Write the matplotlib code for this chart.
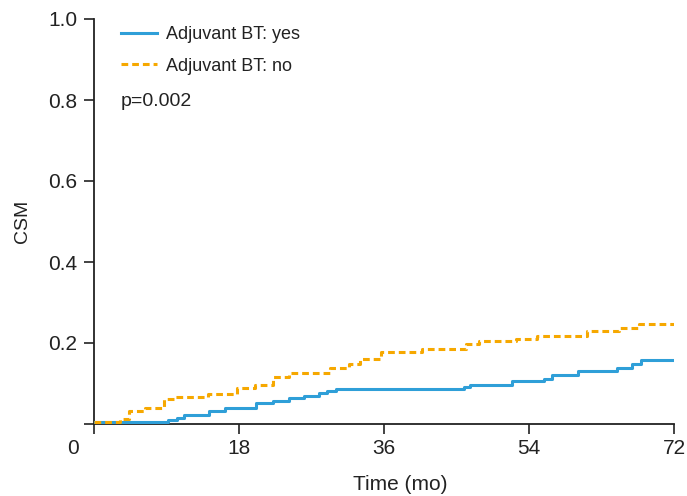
import matplotlib
matplotlib.use('Agg')
import matplotlib.pyplot as plt

# cumulative CSM steps
yes_t = [0, 9.2, 10.3, 11.2, 14.3, 16.3, 20.1, 22.2, 24.2, 26.1, 27.9, 28.9, 30.0,
         45.9, 46.7, 51.9, 55.9, 56.9, 60.1, 64.9, 66.8, 67.9, 72]
yes_csm = [0.005, 0.010, 0.016, 0.022, 0.031, 0.039, 0.051, 0.058, 0.064, 0.070, 0.076,
           0.081, 0.086, 0.091, 0.097, 0.105, 0.112, 0.120, 0.130, 0.139, 0.149, 0.159, 0.159]

no_t = [0, 3.2, 4.3, 6.3, 8.7, 10.1, 14.2, 17.7, 20.0, 22.2, 24.2, 29.3, 31.6, 33.0,
        35.6, 40.7, 46.2, 47.8, 52.4, 55.0, 61.2, 65.2, 67.7, 72]
no_csm = [0.005, 0.012, 0.033, 0.040, 0.061, 0.067, 0.073, 0.088, 0.096, 0.115, 0.126,
          0.138, 0.149, 0.160, 0.177, 0.186, 0.198, 0.204, 0.209, 0.217, 0.229, 0.237,
          0.246, 0.246]

xticks = [0, 18, 36, 54, 72]
yticks = [0, 0.2, 0.4, 0.6, 0.8, 1.0]
ytick_labels = ['', '0.2', '0.4', '0.6', '0.8', '1.0']

BLUE = '#2f9fd8'
ORANGE = '#f6a800'
INK = '#222222'

plt.rcParams['font.family'] = ['Liberation Sans', 'DejaVu Sans']

fig = plt.figure(figsize=(6.87, 4.96), dpi=100)
ax = fig.add_axes([94/687, 1-424/496, 580/687, 405/496])

ax.step(yes_t, yes_csm, where='post', color=BLUE, lw=2.2, label='Adjuvant BT: yes', zorder=3)
ax.step(no_t, no_csm, where='post', color=ORANGE, lw=2.2, ls=(0, (2.2, 1.3)),
        label='Adjuvant BT: no', zorder=4)

ax.set_xlim(0, 72)
ax.set_ylim(0, 1.0)
ax.set_xticks(xticks)
ax.set_xticklabels([''] + [str(t) for t in xticks[1:]])
ax.set_yticks(yticks)
ax.set_yticklabels(ytick_labels)
ax.tick_params(axis='both', direction='out', length=7, width=1.2, colors=INK,
               labelsize=15, pad=5)
ax.tick_params(axis='x', pad=4)
for s in ['top', 'right']:
    ax.spines[s].set_visible(False)
for s in ['left', 'bottom']:
    ax.spines[s].set_linewidth(1.3)
    ax.spines[s].set_color(INK)

# shared origin label
ax.text((73-94)/580, (424-448)/405, '0', transform=ax.transAxes, ha='center',
        va='center', fontsize=15, color=INK, clip_on=False)

ax.set_xlabel('Time (mo)', fontsize=15, color=INK)
ax.set_ylabel('CSM', fontsize=14, color=INK)
ax.xaxis.set_label_coords(0.528, -0.127)
ax.yaxis.set_label_coords(-0.108, 0.5)

leg = ax.legend(loc='upper left', bbox_to_anchor=((121-94)/580, 0.982), frameon=False,
                fontsize=13, handlelength=2.0, handletextpad=0.5, labelspacing=0.8,
                borderpad=0, borderaxespad=0)
for t in leg.get_texts():
    t.set_color(INK)

ax.text((121-94)/580, (424-101)/405, 'p=0.002', transform=ax.transAxes, fontsize=14,
        color=INK, va='center')

fig.savefig('out.png', dpi=100)
